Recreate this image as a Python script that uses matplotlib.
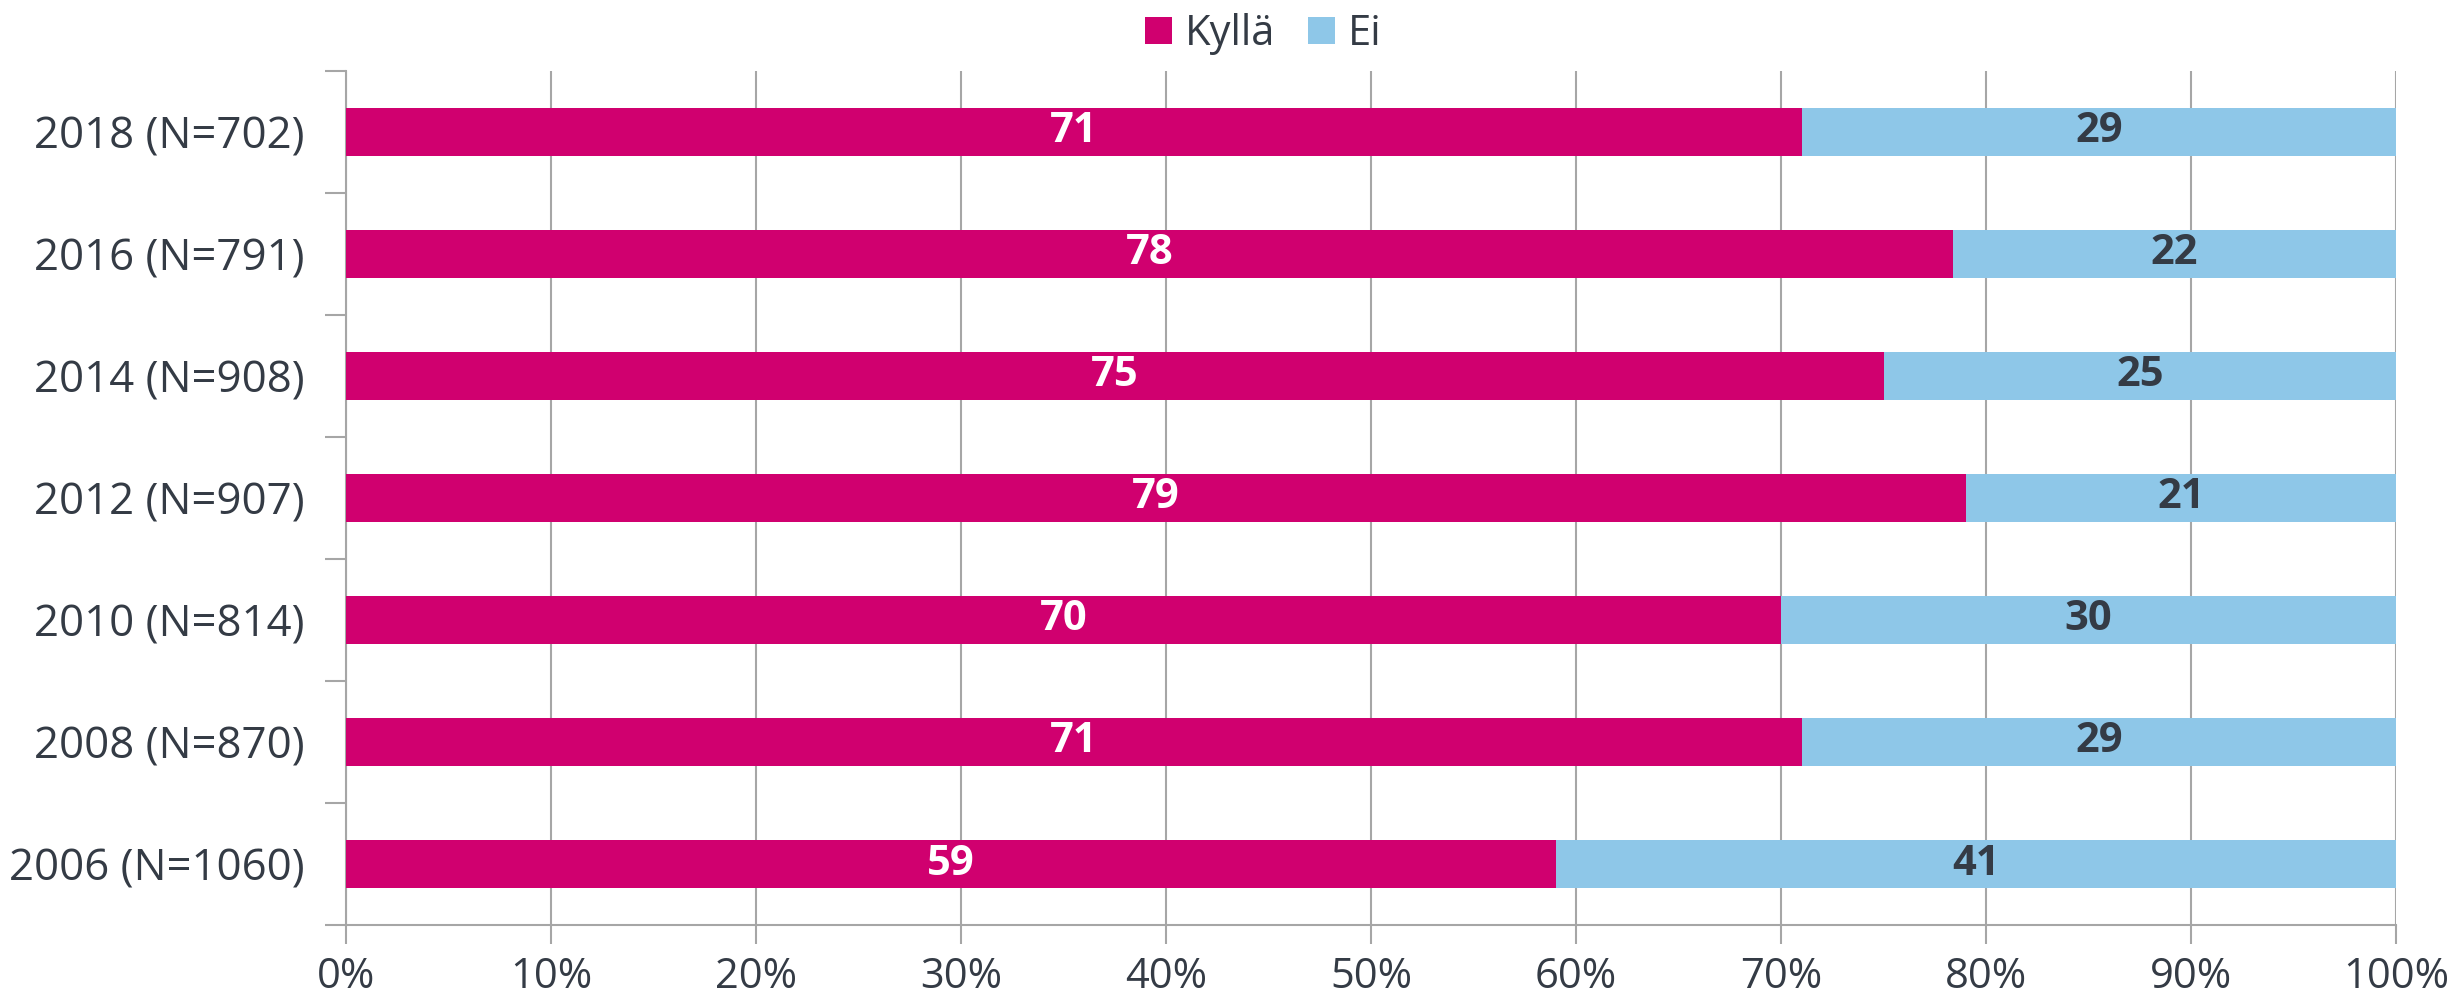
import matplotlib.pyplot as plt
import numpy as np

plt.rcParams["font.family"] = ["Open Sans", "DejaVu Sans"]

years = ["2018 (N=702)", "2016 (N=791)", "2014 (N=908)", "2012 (N=907)",
         "2010 (N=814)", "2008 (N=870)", "2006 (N=1060)"]
kylla = [71, 78.4, 75, 79, 70, 71, 59]
ei = [29, 21.6, 25, 21, 30, 29, 41]
kylla_labels = ["71", "78", "75", "79", "70", "71", "59"]
ei_labels = ["29", "22", "25", "21", "30", "29", "41"]

pink = "#D0006F"
blue = "#8EC7E8"
text_col = "#343b45"
grid_col = "#a6a6a6"

fig = plt.figure(figsize=(24.58, 10.06), dpi=100)
ax = fig.add_axes([0.1408, 0.0805, 0.834, 0.849])

y = np.arange(len(years))
h = 0.40
ax.barh(y, kylla, height=h, color=pink, label="Kyllä", zorder=3)
ax.barh(y, ei, left=kylla, height=h, color=blue, label="Ei", zorder=3)

for i in range(len(years)):
    ax.text(kylla[i] / 2, y[i], kylla_labels[i], ha="center", va="center",
            color="white", fontsize=30, fontweight="bold", zorder=4)
    ax.text(kylla[i] + ei[i] / 2, y[i], ei_labels[i], ha="center", va="center",
            color=text_col, fontsize=30, fontweight="bold", zorder=4)

ax.set_xlim(0, 100)
ax.set_ylim(len(years) - 0.5, -0.5)
ax.set_xticks(np.arange(0, 101, 10))
ax.set_xticklabels([f"{v}%" for v in range(0, 101, 10)])
ax.set_yticks(y)
ax.set_yticklabels(years)
ax.set_yticks(np.arange(-0.5, len(years), 1), minor=True)

ax.grid(axis="x", color=grid_col, linewidth=1.5, zorder=0)
for s in ["top", "right"]:
    ax.spines[s].set_visible(False)
ax.spines["left"].set_color(grid_col)
ax.spines["bottom"].set_color(grid_col)
ax.spines["left"].set_linewidth(1.5)
ax.spines["bottom"].set_linewidth(1.5)

ax.tick_params(axis="y", which="major", length=0, pad=30, labelsize=31.5, labelcolor=text_col)
ax.tick_params(axis="y", which="minor", length=15, width=1.5, color=grid_col)
ax.tick_params(axis="x", length=14, width=1.5, color=grid_col, pad=8,
               labelsize=30, labelcolor=text_col)

leg = fig.legend(loc="center", bbox_to_anchor=(0.514, 0.966), ncol=2, frameon=False,
                 fontsize=30, handlelength=0.65, handleheight=0.65, handletextpad=0.3,
                 columnspacing=0.8, labelcolor=text_col)

fig.savefig("out.png", dpi=100)
